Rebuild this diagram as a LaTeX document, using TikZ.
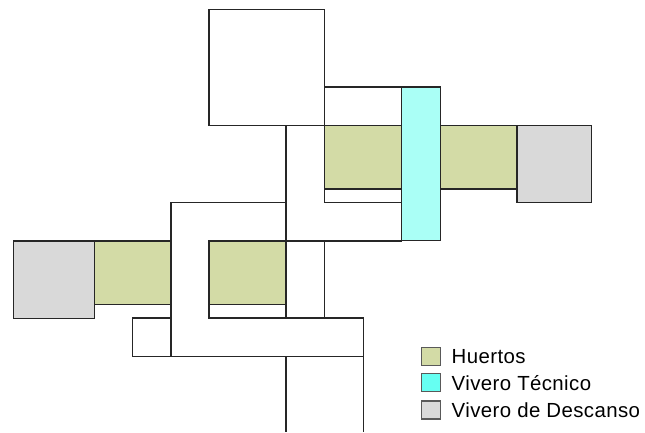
\documentclass[tikz,border=0pt]{standalone}
\usepackage{fontspec}
\setmainfont{Liberation Sans}[LetterSpace=2]
\usepackage{xcolor}
\definecolor{huerto}{HTML}{D3DBA6}
\definecolor{tecnico}{HTML}{AAFFF6}
\definecolor{tecnicoley}{HTML}{66FFF2}
\definecolor{descanso}{HTML}{D9D9D9}
\tikzset{
  muro/.style={draw=black!85, line width=1.35pt, line join=miter},
  swatch/.style={draw=black!65, line width=1.3pt, minimum width=19pt, minimum height=18pt, inner sep=0pt},
  leyenda/.style={anchor=base west, inner sep=0pt, font=\fontsize{20.4}{24}\selectfont}
}

\begin{document}
\begin{tikzpicture}[x=1pt, y=-1pt, transform shape]
\useasboundingbox (0,0) rectangle (645,432);

% left wing
\fill[huerto] (94.3,241) rectangle (171,304.3);
\fill[huerto] (209,241) rectangle (286,304.3);
\draw[muro, fill=descanso] (13.3,241) rectangle (94.3,318.3);
\draw[muro] (94.3,241) -- (171,241);
\draw[muro] (94.3,304.3) -- (171,304.3);
\draw[muro] (209,304.3) -- (286,304.3);
\draw[muro] (132.3,318) rectangle (171,356.7);

% corridor
\draw[muro] (286,202.7) -- (171,202.7) -- (171,356.7) -- (363.3,356.7)
            -- (363.3,318) -- (209,318) -- (209,241) -- (401.7,241);
\draw[muro] (286,125.3) -- (286,318);
\draw[muro] (324.7,241) -- (324.7,318);
\draw[muro] (286,356.7) -- (286,432);
\draw[muro] (363.3,356.7) -- (363.3,432);

% top and right wing
\draw[muro] (209,9.7) rectangle (324.7,125.3);
\draw[muro] (324.7,87) -- (401.7,87);
\draw[muro, fill=huerto] (324.7,125.3) rectangle (401.7,189);
\draw[muro, fill=huerto] (440.3,125.3) rectangle (517,189);
\draw[muro] (324.7,189) -- (324.7,202.3) -- (401.7,202.3);
\draw[muro, fill=descanso] (517,125.3) rectangle (591.3,202.3);
\draw[muro, fill=tecnico] (401.7,87) rectangle (440.3,240.7);

% legend
\node[swatch, fill=huerto] (swHuertos) at (431,356.5) {};
\node[swatch, fill=tecnicoley] (swTecnico) at (431,382.8) {};
\node[swatch, fill=descanso] (swDescanso) at (431,410) {};
\node[leyenda] (txtHuertos) at (451.5,363) {Huertos};
\node[leyenda] (txtTecnico) at (451.5,390) {Vivero Técnico};
\node[leyenda] (txtDescanso) at (451.5,417.5) {Vivero de Descanso};
\end{tikzpicture}
\end{document}
